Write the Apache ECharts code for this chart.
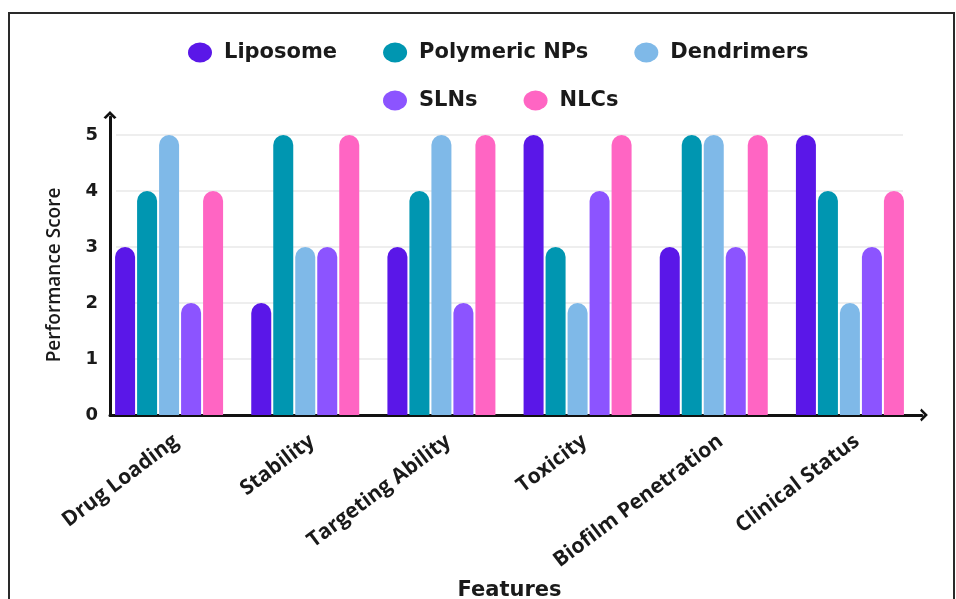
<!DOCTYPE html>
<html>
<head>
<meta charset="utf-8">
<script src="https://cdn.jsdelivr.net/npm/echarts@6/dist/echarts.min.js"></script>
<style>
  html, body { margin: 0; padding: 0; background: #fff; }
  #chart { width: 956px; height: 599px; }
</style>
</head>
<body>
<div id="chart"></div>
<script>
// Scores per feature (0-5) for each nanocarrier type
const features = ['Drug Loading', 'Stability', 'Targeting Ability', 'Toxicity', 'Biofilm Penetration', 'Clinical Status'];
const liposome   = [3, 2, 3, 5, 3, 5];
const polymeric  = [4, 5, 4, 3, 5, 4];
const dendrimers = [5, 3, 5, 2, 5, 2];
const slns       = [2, 3, 2, 4, 3, 3];
const nlcs       = [4, 5, 5, 5, 5, 4];
const yTicks = [0, 1, 2, 3, 4, 5];

const seriesDefs = [
  { name: 'Liposome', data: liposome, color: '#5a17e8' },
  { name: 'Polymeric NPs', data: polymeric, color: '#0096b1' },
  { name: 'Dendrimers', data: dendrimers, color: '#7fb9e8' },
  { name: 'SLNs', data: slns, color: '#8c54ff' },
  { name: 'NLCs', data: nlcs, color: '#ff65c3' }
];

const chevron = 'path://M0,10 L10,0 L20,10 L16.5,12 L10,5.5 L3.5,12 Z';
const legendFont = { fontFamily: 'DejaVu Sans', fontWeight: 'bold', fontSize: 21, color: '#1a1a1a', padding: [0, 0, 0, 7] };
const ellipse = 'path://M0,10 A12,10 0 1,1 24,10 A12,10 0 1,1 0,10 Z';
const plain = { outerBoundsMode: 'none', containLabel: false, top: 135, bottom: 184 };

const chart = echarts.init(document.getElementById('chart'));
chart.setOption({
  backgroundColor: '#ffffff',
  animation: false,
  graphic: [{
    type: 'rect', silent: true, z: -1,
    shape: { x: 9, y: 13, width: 945, height: 620 },
    style: { fill: 'none', stroke: '#2a2a2a', lineWidth: 2 }
  }],
  legend: [{
    data: seriesDefs.slice(0, 3).map(s => s.name),
    top: 37, left: 183, itemWidth: 24, itemHeight: 20, itemGap: 46,
    icon: ellipse, textStyle: legendFont
  }, {
    data: seriesDefs.slice(3).map(s => s.name),
    top: 85, left: 378, itemWidth: 24, itemHeight: 20, itemGap: 46,
    icon: ellipse, textStyle: legendFont
  }],
  grid: [
    // bars
    Object.assign({ left: 101, right: 38 }, plain),
    // horizontal guide lines
    Object.assign({ left: 116, right: 53 }, plain),
    // axis lines with arrow heads
    Object.assign({ left: 110, right: 34 }, plain, { top: 117 }),
    // slanted category labels
    Object.assign({ left: 108, right: 31 }, plain)
  ],
  xAxis: [{
    gridIndex: 0, type: 'category', data: features,
    axisLine: { show: false }, axisTick: { show: false }, axisLabel: { show: false },
    name: 'Features', nameLocation: 'middle', nameGap: 165,
    nameTextStyle: { fontFamily: 'DejaVu Sans', fontWeight: 'bold', fontSize: 21, color: '#1a1a1a' }
  }, {
    gridIndex: 1, type: 'value', min: 0, max: 1, show: false
  }, {
    gridIndex: 2, type: 'value', min: 0, max: 1,
    axisLine: { show: true, symbol: ['none', chevron], symbolSize: [13, 9], symbolOffset: [0, 2],
      lineStyle: { color: '#111', width: 3 } },
    axisTick: { show: false }, axisLabel: { show: false }, splitLine: { show: false }
  }, {
    gridIndex: 3, type: 'category', data: features,
    axisLine: { show: false }, axisTick: { show: false },
    axisLabel: {
      interval: 0, rotate: 37, margin: 24, padding: [37, 0, 0, 0],
      fontFamily: 'Open Sans', fontWeight: 'bold', fontSize: 21, color: '#1a1a1a'
    }
  }],
  yAxis: [{
    gridIndex: 0, type: 'value', min: 0, max: 5, interval: 1,
    axisLine: { show: false }, axisTick: { show: false }, axisLabel: { show: false }, splitLine: { show: false },
    name: 'Performance Score', nameLocation: 'middle', nameGap: 37,
    nameTextStyle: { fontFamily: 'Open Sans', fontWeight: 600, fontSize: 19, color: '#1a1a1a' }
  }, {
    gridIndex: 1, type: 'value', min: 0, max: 5, interval: 1,
    axisLine: { show: false }, axisTick: { show: false }, axisLabel: { show: false },
    splitLine: { show: true, lineStyle: { color: '#e8e8e8', width: 1.5 } }
  }, {
    gridIndex: 2, type: 'value', min: 0, max: 298 / 56, interval: 1,
    axisLine: { show: true, symbol: ['none', chevron], symbolSize: [13, 9], symbolOffset: [0, 2],
      lineStyle: { color: '#111', width: 3 } },
    axisTick: { show: false }, splitLine: { show: false },
    axisLabel: {
      margin: 12, fontFamily: 'DejaVu Sans', fontWeight: 'bold', fontSize: 18, color: '#1a1a1a',
      formatter: v => (yTicks.indexOf(v) >= 0 ? String(v) : '')
    }
  }, {
    gridIndex: 3, type: 'value', min: 0, max: 5, show: false
  }],
  series: seriesDefs.map(s => ({
    name: s.name, type: 'bar', xAxisIndex: 0, yAxisIndex: 0,
    data: s.data, barWidth: 20, barGap: '10%',
    itemStyle: { color: s.color, borderRadius: [10, 10, 0, 0] }
  }))
});
</script>
</body>
</html>
